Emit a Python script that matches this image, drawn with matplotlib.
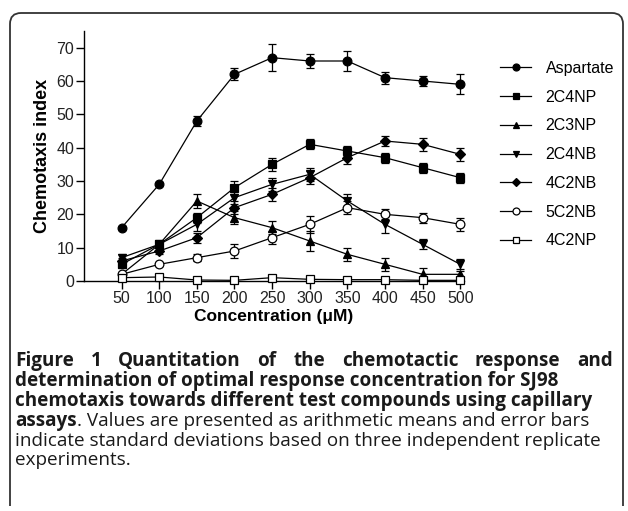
import matplotlib
matplotlib.use('Agg')
import matplotlib.pyplot as plt
from matplotlib.path import Path
from matplotlib.patches import PathPatch

# concentrations (uM)
conc = [50, 100, 150, 200, 250, 300, 350, 400, 450, 500]

# chemotaxis index (mean, sd)
aspartate = [16, 29, 48, 62, 67, 66, 66, 61, 60, 59]
aspartate_sd = [0.3, 0.3, 1.5, 1.8, 4.0, 2.0, 3.0, 1.8, 1.5, 3.0]
c2c4np = [5, 11, 19, 28, 35, 41, 39, 37, 34, 31]
c2c4np_sd = [1.0, 1.0, 1.5, 2.0, 2.0, 1.5, 1.5, 1.5, 1.5, 1.5]
c2c3np = [2, 11, 24, 19, 16, 12, 8, 5, 2, 2]
c2c3np_sd = [0.5, 1.0, 2.0, 2.0, 2.0, 3.0, 2.0, 2.0, 2.0, 1.0]
c2c4nb = [7, 11, 17, 25, 29, 32, 24, 17, 11, 5]
c2c4nb_sd = [1.0, 1.0, 2.0, 2.0, 2.0, 2.0, 2.0, 2.5, 1.5, 1.5]
c4c2nb = [6, 9, 13, 22, 26, 31, 37, 42, 41, 38]
c4c2nb_sd = [1.0, 1.0, 1.5, 2.0, 2.0, 2.0, 2.0, 1.5, 2.0, 2.0]
c5c2nb = [2, 5, 7, 9, 13, 17, 22, 20, 19, 17]
c5c2nb_sd = [0.5, 0.5, 1.0, 2.0, 2.0, 2.5, 2.0, 1.5, 1.5, 2.0]
c4c2np = [1, 1.2, 0.3, 0.2, 1, 0.5, 0.4, 0.4, 0.2, 0.2]
c4c2np_sd = [0.3, 0.3, 0.3, 0.3, 0.3, 0.3, 0.3, 0.3, 0.3, 0.3]

series = [
    ('Aspartate', aspartate, aspartate_sd, 'o', 'black'),
    ('2C4NP', c2c4np, c2c4np_sd, 's', 'black'),
    ('2C3NP', c2c3np, c2c3np_sd, '^', 'black'),
    ('2C4NB', c2c4nb, c2c4nb_sd, 'v', 'black'),
    ('4C2NB', c4c2nb, c4c2nb_sd, 'D', 'black'),
    ('5C2NB', c5c2nb, c5c2nb_sd, 'o', 'white'),
    ('4C2NP', c4c2np, c4c2np_sd, 's', 'white'),
]

W, H = 628, 511
fig = plt.figure(figsize=(W / 100, H / 100), dpi=100)

# open frame: left, top and right edges with rounded top corners (pixel units)
r = 11
fx0, fx1, fy, fbot = 10, 623, 13, 506
verts = [(fx0, fbot), (fx0, fy + r), (fx0, fy), (fx0 + r, fy),
         (fx1 - r, fy), (fx1, fy), (fx1, fy + r), (fx1, fbot)]
codes = [Path.MOVETO, Path.LINETO, Path.CURVE3, Path.CURVE3,
         Path.LINETO, Path.CURVE3, Path.CURVE3, Path.LINETO]
verts = [(x / W, 1 - y / H) for x, y in verts]
fig.patches.append(PathPatch(Path(verts, codes), transform=fig.transFigure,
                             fill=False, edgecolor='#333333', lw=1.3))

ax = fig.add_axes([84 / W, 1 - 281 / H, 380 / W, 250 / H])
chart_font = 'Liberation Sans'

handles = []
for name, vals, sd, mk, face in series:
    ms = 6.3 if mk != 'D' else 5.2
    ax.errorbar(conc, vals, yerr=sd, fmt='none', ecolor='black',
                elinewidth=0.9, capsize=3, capthick=0.9, clip_on=False, zorder=2)
    line, = ax.plot(conc, vals, marker=mk, color='black', lw=0.9, ms=ms,
                    mfc=face, mec='black', mew=0.9, clip_on=False, zorder=3,
                    label=name)
    handles.append(line)

ax.set_xlim(0, 505)
ax.set_ylim(0, 75)
ax.set_xticks(conc)
ax.set_yticks(range(0, 71, 10))
for s in ['top', 'right']:
    ax.spines[s].set_visible(False)
for s in ['left', 'bottom']:
    ax.spines[s].set_linewidth(1.0)
ax.tick_params(direction='out', length=5.5, width=1.0, pad=1.5,
               labelsize=11.5, labelcolor='#222222')
for lab in ax.get_xticklabels() + ax.get_yticklabels():
    lab.set_family(chart_font)

ax.set_ylabel('Chemotaxis index', family=chart_font, fontsize=13,
              fontweight='bold', labelpad=4)
ax.set_xlabel('Concentration (μM)', family=chart_font, fontsize=12.5,
              fontweight='bold', labelpad=2)

leg_handles = []
for h in handles:
    h2, = ax.plot([], [], marker=h.get_marker(), color='black', lw=0.9,
                  ms=5.0 if h.get_marker() != 'D' else 4.2,
                  mfc=h.get_markerfacecolor(), mec='black', mew=0.9)
    leg_handles.append(h2)
fig.legend(leg_handles, [h.get_label() for h in handles],
           loc='upper left', bbox_to_anchor=(500 / W, 1 - 61 / H),
           frameon=False, prop={'family': chart_font, 'size': 11.5},
           handlelength=1.95, handletextpad=0.9, labelspacing=0.86,
           borderaxespad=0, borderpad=0)

# caption
cap_font = 'Open Sans'
cap_size = 13.6
renderer = fig.canvas.get_renderer()


def text_width(s, weight):
    t = fig.text(0, 0, s, family=cap_font, fontsize=cap_size, fontweight=weight)
    w = t.get_window_extent(renderer).width
    t.remove()
    return w


def put_parts(y_px, parts, x0=15, justify_to=None):
    y = 1 - y_px / H
    if justify_to is not None:
        # only one weight per justified line
        words = parts[0][0].split()
        weight = parts[0][1]
        widths = [text_width(w, weight) for w in words]
        gap = (justify_to - x0 - sum(widths)) / (len(words) - 1)
        x = x0
        for w, wd in zip(words, widths):
            fig.text(x / W, y, w, family=cap_font, fontsize=cap_size,
                     fontweight=weight, va='center', color='#1a1a1a')
            x += wd + gap
        return
    x = x0
    for s, weight in parts:
        fig.text(x / W, y, s, family=cap_font, fontsize=cap_size,
                 fontweight=weight, va='center', color='#1a1a1a')
        x += text_width(s, weight)


put_parts(361, [('Figure 1 Quantitation of the chemotactic response and', 'bold')],
          justify_to=613)
put_parts(381, [('determination of optimal response concentration for SJ98', 'bold')])
put_parts(401, [('chemotaxis towards different test compounds using capillary', 'bold')])
put_parts(421, [('assays', 'bold'),
                ('. Values are presented as arithmetic means and error bars', 'normal')])
put_parts(441, [('indicate standard deviations based on three independent replicate', 'normal')])
put_parts(460, [('experiments.', 'normal')])

fig.savefig('out.png', dpi=100)
